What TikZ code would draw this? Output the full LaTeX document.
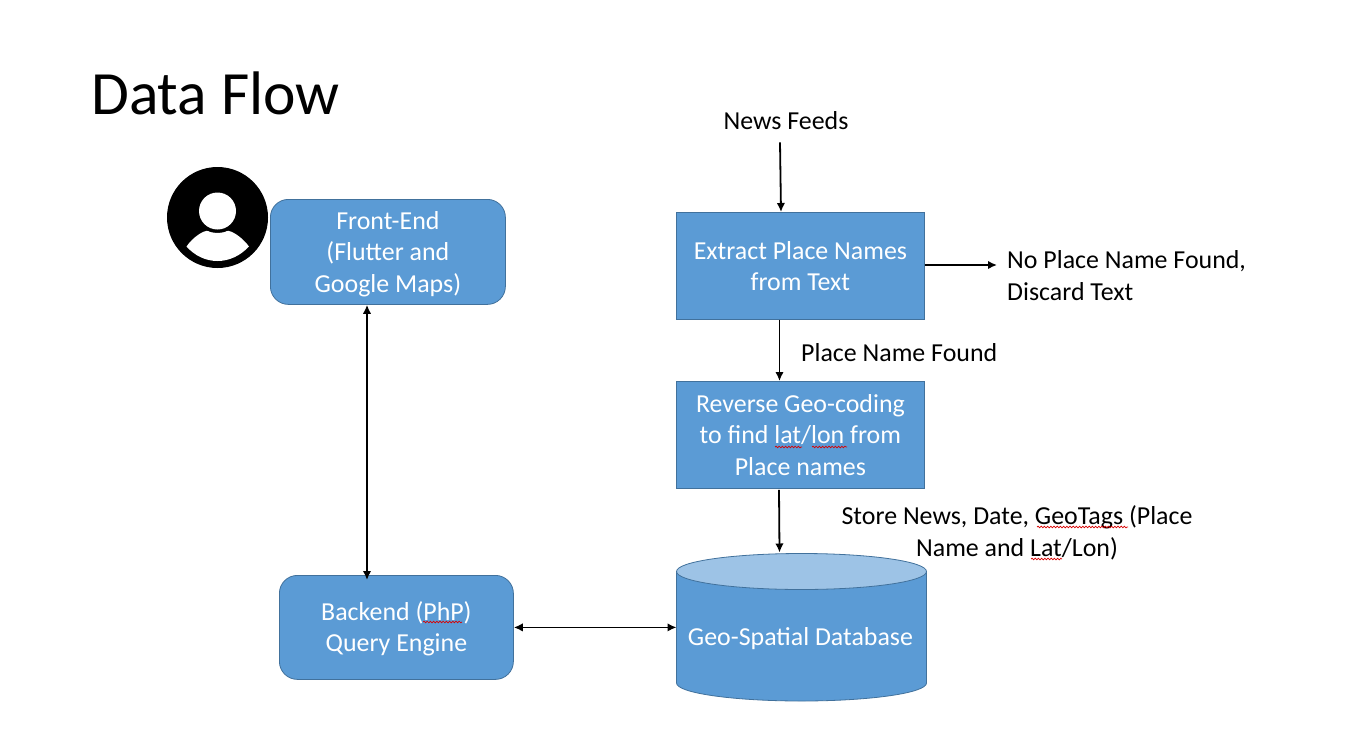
\documentclass[tikz,border=0pt]{standalone}
\usepackage{fontspec}
\setmainfont{Carlito}
\usetikzlibrary{arrows.meta,decorations.pathmorphing}
\definecolor{boxblue}{HTML}{5B9BD5}
\definecolor{boxedge}{HTML}{41719C}
\definecolor{toplight}{HTML}{9DC3E6}
\tikzset{
  x=1pt,y=-1pt,
  bluebox/.style={draw=boxedge,line width=0.8pt,fill=boxblue,text=white,align=center,inner sep=0pt,anchor=north west,font=\fontsize{25.9}{31.5}\selectfont},
  roundbox/.style={bluebox,rounded corners=18pt},
  plainlabel/.style={inner sep=0pt,align=center,font=\fontsize{25.9}{31.5}\selectfont},
  arrowline/.style={draw=black,line width=1.8pt,-{Latex[length=9pt,width=8.5pt]}},
  bothline/.style={draw=black,line width=1.8pt,{Latex[length=9pt,width=8.5pt]}-{Latex[length=9pt,width=8.5pt]}},
  squiggle/.style={draw=red!85!black,line width=0.7pt,decorate,decoration={snake,amplitude=0.8pt,segment length=3.2pt}}
}
\begin{document}
\begin{tikzpicture}
\useasboundingbox (0,0) rectangle (1349,739);
\fill[white] (0,0) rectangle (1349,739);
\node[anchor=west,inner sep=0pt,font=\fontsize{61.5}{70}\selectfont] (title) at (91,93) {Data Flow};
% user icon
\fill[black] (217.5,217.5) circle[radius=50.5];
\fill[white] (217.5,211) circle[radius=18.5];
\fill[white] (186.5,246.5) .. controls (193,237) and (204,230) .. (208,231) .. controls (212,233.5) and (223,233.5) .. (227,231) .. controls (231,230) and (242,237) .. (249,246.5) .. controls (240,256) and (229,261) .. (217.5,261) .. controls (206,261) and (195,256) .. (186.5,246.5) -- cycle;
% boxes
\node[roundbox,minimum width=235pt,minimum height=105pt] (front) at (270,199) {\rule{0pt}{22pt}Front-End\\(Flutter and\\Google Maps)};
\node[roundbox,minimum width=234pt,minimum height=104pt] (back) at (279,575) {\rule{0pt}{22pt}Backend (PhP)\\Query Engine};
\node[bluebox,minimum width=248pt,minimum height=107pt] (extract) at (676,212) {Extract Place Names\\from Text};
\node[bluebox,minimum width=248pt,minimum height=107pt] (reverse) at (676,381) {Reverse Geo-coding\\to find lat/lon from\\Place names};
% database
\draw[draw=boxedge,line width=0.8pt,fill=boxblue] (676.5,571.5) -- (676.5,683) arc[start angle=180,end angle=0,x radius=125,y radius=18] -- (926.5,571.5) -- cycle;
\draw[draw=boxedge,line width=0.8pt,fill=toplight] (801.5,571.5) ellipse[x radius=125,y radius=18];
\node[minimum width=250pt,minimum height=148pt,inner sep=0pt,anchor=north west] (db) at (676.5,553.5) {};
\node[inner sep=0pt,anchor=base,text=white,font=\fontsize{25.9}{31.5}\selectfont] (dblabel) at (800.5,645.5) {Geo-Spatial Database};
% labels
\node[plainlabel,anchor=base] (feeds) at (786,129) {News Feeds};
\node[plainlabel,anchor=base west,align=left] (nofound) at (1007,300) {No Place Name Found,\\Discard Text};
\coordinate (nofoundin) at (997,265);
\node[plainlabel,anchor=base west] (found) at (801,361) {Place Name Found};
\node[plainlabel,anchor=base] (store) at (1017,556) {Store News, Date, GeoTags (Place\\Name and Lat/Lon)};
% connectors
\draw[arrowline] ([xshift=-6pt,yshift=-13pt]feeds.south) -- ([xshift=105pt]extract.north west);
\draw[arrowline] ([xshift=103.5pt]extract.south west) -- ([xshift=103.5pt]reverse.north west);
\draw[arrowline] (extract.east |- nofoundin) -- (nofoundin);
\draw[arrowline] ([xshift=103pt,yshift=-1pt]reverse.south west) -- ([xshift=103pt,yshift=1pt]db.north west);
\draw[bothline] ([xshift=97pt]front.south west) -- ([xshift=88pt,yshift=-5pt]back.north west);
\draw[bothline] (back.east) -- (db.west |- back.east);
% spell-check squiggles
\draw[squiggle] (775,447) -- (802,447);
\draw[squiggle] (812,447) -- (847,447);
\draw[squiggle] (1037,527) -- (1128,527);
\draw[squiggle] (1031,559) -- (1062,559);
\draw[squiggle] (423,622) -- (462,622);
\end{tikzpicture}
\end{document}
